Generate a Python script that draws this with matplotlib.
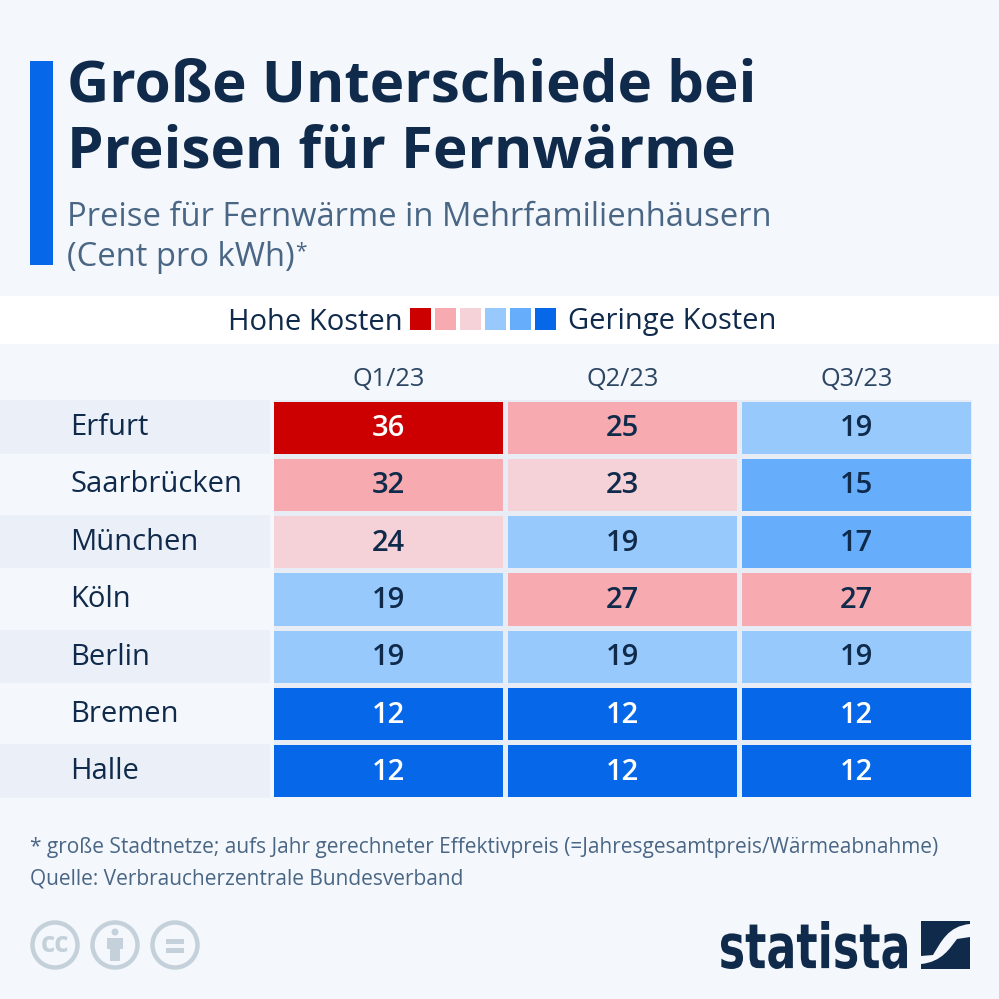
import matplotlib
matplotlib.use('Agg')
import matplotlib.pyplot as plt
from matplotlib.colors import ListedColormap, BoundaryNorm
from matplotlib.patches import Rectangle, Circle, PathPatch
from matplotlib.path import Path
from matplotlib.textpath import TextPath
from matplotlib.font_manager import FontProperties
from matplotlib.transforms import Affine2D, Bbox, TransformedBbox
import numpy as np

plt.rcParams['font.family'] = ['Open Sans', 'DejaVu Sans']

cities = ['Erfurt', 'Saarbrücken', 'München', 'Köln', 'Berlin', 'Bremen', 'Halle']
quarters = ['Q1/23', 'Q2/23', 'Q3/23']
q1 = [36, 32, 24, 19, 19, 12, 12]
q2 = [25, 23, 19, 27, 19, 12, 12]
q3 = [19, 15, 17, 27, 19, 12, 12]

# colour classes, low to high
class_colors = ['#0668e8', '#66aefc', '#97c9fc', '#f5d2d8', '#f7abb0', '#cc0000']
class_bounds = [10, 14, 18, 22, 24.5, 34, 40]

bg = '#f4f7fb'
navy = '#0f2a4a'
grey_blue = '#4a6685'
gap = '#e8ecf4'

W = 999
fig = plt.figure(figsize=(9.99, 9.99), dpi=100, facecolor=bg)

# pixel canvas for all the furniture
page = fig.add_axes([0, 0, 1, 1])
page.set_xlim(0, W)
page.set_ylim(W, 0)
page.axis('off')

page.add_patch(Rectangle((30, 61), 23, 204, fc='#0668e8', ec='none'))
page.text(67, 86, 'Große Unterschiede bei', fontsize=42, fontweight='bold', color=navy, va='center')
page.text(67, 152, 'Preisen für Fernwärme', fontsize=42, fontweight='bold', color=navy, va='center')
page.text(67, 217, 'Preise für Fernwärme in Mehrfamilienhäusern', fontsize=23.6, color=grey_blue, va='center')
page.text(67, 258, '(Cent pro kWh)', fontsize=23.6, color=grey_blue, va='center')
page.text(295, 252, '*', fontsize=15, color=grey_blue, va='center')

# legend band
page.add_patch(Rectangle((0, 296), W, 48, fc='white', ec='none'))
page.text(402.5, 322, 'Hohe Kosten', fontsize=21, color=navy, va='center', ha='right')
page.text(568, 322, 'Geringe Kosten', fontsize=21, color=navy, va='center', ha='left')
for i, c in enumerate(class_colors[::-1]):
    page.add_patch(Rectangle((410 + i * 25, 308), 21, 22, fc=c, ec='none'))

# row label bands
row_pitch = 57.4
for i, city in enumerate(cities):
    y0 = 400 + i * row_pitch
    if i % 2 == 0:
        page.add_patch(Rectangle((0, y0), 270, 53.5, fc='#ebf0f8', ec='none'))
    page.text(70, y0 + 27.5, city, fontsize=21, color=navy, va='center')

# table cells
values = np.array([q1, q2, q3]).T
ax = fig.add_axes([271 / W, 1 - 799.6 / W, 702 / W, 401.1 / W])
cmap = ListedColormap(class_colors)
norm = BoundaryNorm(class_bounds, cmap.N)
mesh = ax.pcolormesh(values, cmap=cmap, norm=norm, edgecolors=gap, linewidth=2.3)
mesh.set_clip_box(TransformedBbox(Bbox([[274 / W, 1 - 797 / W], [972 / W, 1 - 400 / W]]), fig.transFigure))
ax.set_ylim(len(cities), 0)
ax.axis('off')
for r in range(values.shape[0]):
    for c in range(values.shape[1]):
        v = values[r, c]
        col = 'white' if v >= 34 or v <= 14 else navy
        ax.text(c + 0.5, r + 0.525, str(v), ha='center', va='center', fontsize=21,
                fontweight='semibold', color=col)
for c, q in enumerate(quarters):
    page.text(272 + 702 * (c + 0.5) / 3, 379, q, ha='center', va='center', fontsize=18.3, color='#2c4663')

# footer
page.text(30, 848, '* große Stadtnetze; aufs Jahr gerechneter Effektivpreis (=Jahresgesamtpreis/Wärmeabnahme)',
          fontsize=15.05, color=grey_blue, va='center')
page.text(30, 879, 'Quelle: Verbraucherzentrale Bundesverband', fontsize=15.05, color=grey_blue, va='center')

# cc icons
icon = '#c5d1da'
for cx in (55, 115, 175):
    page.add_patch(Circle((cx, 945), 22.5, fc='none', ec=icon, lw=3.2))
page.text(55, 944, 'cc', fontsize=20, fontweight='bold', color=icon, ha='center', va='center')
page.add_patch(Circle((115, 932), 3.5, fc=icon, ec='none'))
page.add_patch(Rectangle((107, 938), 16, 11, fc=icon, ec='none'))
page.add_patch(Rectangle((110, 949), 10, 12, fc=icon, ec='none'))
page.add_patch(Rectangle((166, 939), 18, 4.5, fc=icon, ec='none'))
page.add_patch(Rectangle((166, 948), 18, 4.5, fc=icon, ec='none'))

# statista logo
fp = FontProperties(family='Liberation Sans Narrow', weight='bold')
tp = TextPath((0, 0), 'statista', size=100, prop=fp)
bb = tp.get_extents()
tr = Affine2D().translate(-bb.x0, -bb.y0).scale(186 / bb.width, -48 / bb.height).translate(721, 969)
page.add_patch(PathPatch(tp, transform=tr + page.transData, fc=navy, ec='none'))
verts = [(921, 921), (970, 921), (970, 924), (948, 926), (941, 942), (933, 955), (921, 956), (921, 921)]
codes = [Path.MOVETO, Path.LINETO, Path.LINETO, Path.CURVE4, Path.CURVE4, Path.CURVE4, Path.LINETO, Path.CLOSEPOLY]
page.add_patch(PathPatch(Path(verts, codes), fc=navy, ec='none'))
verts = [(970, 937), (970, 969), (921, 969), (921, 964), (942, 962), (950, 948), (957, 939), (970, 937)]
codes = [Path.MOVETO, Path.LINETO, Path.LINETO, Path.LINETO, Path.CURVE4, Path.CURVE4, Path.CURVE4, Path.CLOSEPOLY]
page.add_patch(PathPatch(Path(verts, codes), fc=navy, ec='none'))

fig.savefig('out.png', dpi=100, facecolor=bg)
